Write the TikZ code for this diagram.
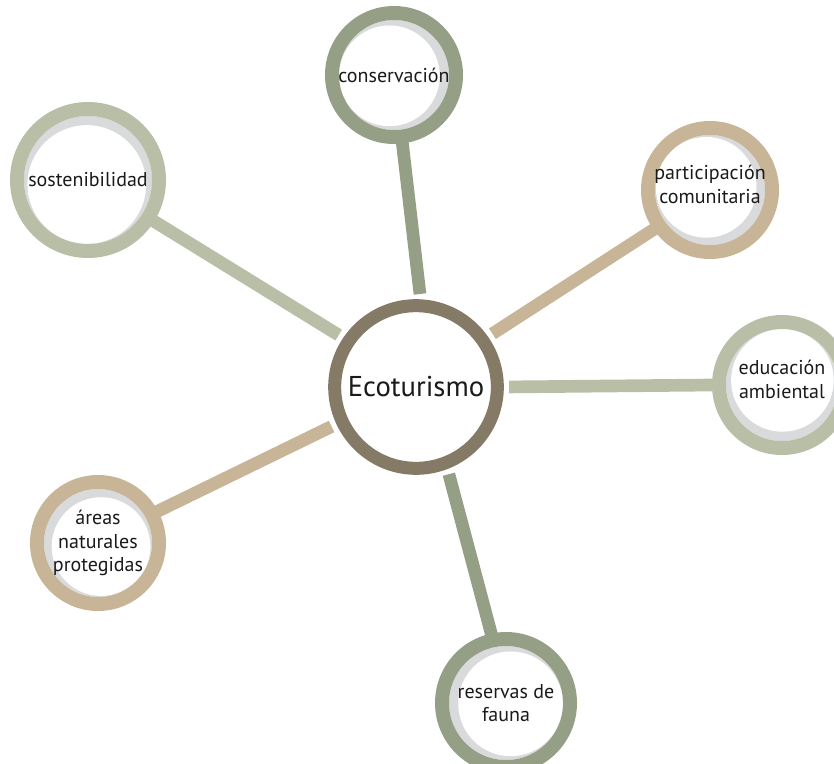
\documentclass[tikz,border=0pt]{standalone}
\usepackage{fontspec}
\setmainfont{PT Sans}
\usetikzlibrary{positioning}
\definecolor{hubring}{HTML}{857A66}
\definecolor{sagedark}{HTML}{949F85}
\definecolor{sagelight}{HTML}{B9BEA6}
\definecolor{tan}{HTML}{C8B496}
\definecolor{moongray}{HTML}{D9DADC}
\definecolor{ink}{HTML}{1A1A1A}
\tikzset{hub/.style = {circle, draw=hubring, line width=9.75pt, minimum size=122pt,
                       inner sep=0pt, text=ink, font=\fontsize{21.5}{26}\selectfont},
         leaf/.style n args = {3}{circle, draw=#1, line width=10.5pt,
                                  minimum size={2*(#2-5.25pt)}, inner sep=0pt, align=center,
                                  text=ink, font=\fontsize{15}{17.5}\selectfont,
                                  path picture={
                                    \fill [moongray] (path picture bounding box.center) circle ({#2-10.5pt});
                                    \fill [white] ([shift={(#3+180:3.5pt)}]path picture bounding box.center)
                                      circle ({#2-14pt});}},
         bar/.style = {draw=#1, line width=9.5pt, shorten <=4pt, shorten >=-3pt}}

\begin{document}
\begin{tikzpicture}[x=0.75pt, y=-0.75pt]
    \useasboundingbox (0, 0) rectangle (834, 763);

    \node [hub] (eco) at (416, 387) {Ecoturismo};

    \node [leaf={sagedark}{51.75pt}{10}] (cons) at (394, 75) {conservación};
    \node [leaf={sagelight}{58.5pt}{75}] (sost) at (88, 180) {sostenibilidad};
    \node [leaf={tan}{51.75pt}{-35}] (part) at (710, 190) {participación\\comunitaria\\[-0.6em]};
    \node [leaf={sagelight}{52.5pt}{-95}] (edu) at (782, 385) {educación\\ambiental\\[-0.6em]};
    \node [leaf={tan}{51pt}{130}] (areas) at (98, 543) {áreas\\naturales\\protegidas};
    \node [leaf={sagedark}{53.25pt}{170}] (fauna) at (506, 703) {reservas de\\fauna};

    \draw [bar=sagedark] (eco.87) -- (cons.-83.5);
    \draw [bar=sagelight] (eco.146) -- (sost.-32);
    \draw [bar=tan] (eco.35) -- (part.-145);
    \draw [bar=sagelight] (eco.0) -- (edu.180);
    \draw [bar=tan] (eco.205.5) -- (areas.28);
    \draw [bar=sagedark] (eco.-69) -- (fauna.102.7);
\end{tikzpicture}
\end{document}
